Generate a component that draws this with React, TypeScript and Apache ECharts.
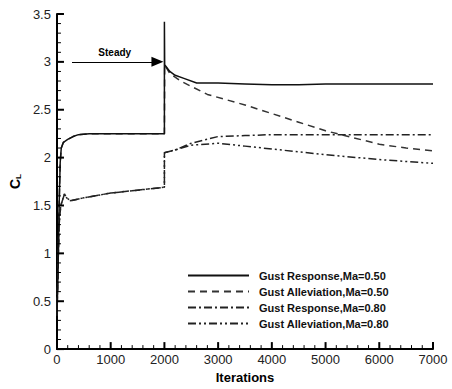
import React, { useEffect, useRef } from "react";
import * as echarts from "echarts";

const seriesNames = [
  "Gust Response,Ma=0.50",
  "Gust Alleviation,Ma=0.50",
  "Gust Response,Ma=0.80",
  "Gust Alleviation,Ma=0.80",
];

const steadyMa050: number[][] = [
  [0, 0.35], [20, 0.8], [40, 1.5], [60, 1.95], [80, 2.1], [120, 2.16], [200, 2.19],
  [300, 2.22], [400, 2.24], [600, 2.25], [1000, 2.25], [1500, 2.25], [2000, 2.25],
];
const steadyMa080: number[][] = [
  [0, 0.4], [20, 0.9], [40, 1.3], [70, 1.5], [100, 1.55], [140, 1.62], [180, 1.58],
  [250, 1.55], [500, 1.58], [1000, 1.63], [1500, 1.66], [2000, 1.69],
];

const responseMa050: number[][] = [
  [2000, 3.42], [2005, 2.97], [2100, 2.9], [2200, 2.86], [2350, 2.83], [2600, 2.78],
  [3000, 2.78], [3500, 2.77], [4000, 2.76], [4500, 2.76], [5000, 2.77], [6000, 2.77], [7000, 2.77],
];
const alleviationMa050: number[][] = [
  [2005, 2.97], [2100, 2.88], [2300, 2.8], [2800, 2.66], [3500, 2.55], [4000, 2.46],
  [4500, 2.37], [5000, 2.28], [5500, 2.21], [6000, 2.14], [6500, 2.1], [7000, 2.07],
];
const responseMa080: number[][] = [
  [2000, 2.05], [2200, 2.08], [2500, 2.15], [3000, 2.22], [3500, 2.23], [4000, 2.24],
  [5000, 2.24], [6000, 2.24], [7000, 2.24],
];
const alleviationMa080: number[][] = [
  [2000, 2.05], [2200, 2.08], [2500, 2.13], [3000, 2.15], [3500, 2.12], [4000, 2.09],
  [5000, 2.03], [6000, 1.98], [7000, 1.94],
];

const xMajorTicks = [0, 1000, 2000, 3000, 4000, 5000, 6000, 7000];
const yMajorTicks = [0, 0.5, 1, 1.5, 2, 2.5, 3, 3.5];

const arrowStart = [280, 3.0];
const arrowEnd = [1870, 3.0];

export default function App() {
  const ref = useRef<HTMLDivElement>(null);
  useEffect(() => {
    if (!ref.current) return;
    const chart = echarts.init(ref.current, null, { renderer: "svg" });
    const font = "Liberation Sans, Arial, sans-serif";

    // tick marks: [value, kind] kind 0 = x major, 1 = x minor, 2 = y major, 3 = y minor
    const tickData: number[][] = [];
    xMajorTicks.forEach((v, i) => {
      tickData.push([v, 0]);
      if (i < xMajorTicks.length - 1) {
        const step = (xMajorTicks[i + 1] - v) / 5;
        for (let k = 1; k < 5; k++) tickData.push([v + step * k, 1]);
      }
    });
    yMajorTicks.forEach((v, i) => {
      tickData.push([v, 2]);
      if (i < yMajorTicks.length - 1) {
        const step = (yMajorTicks[i + 1] - v) / 5;
        for (let k = 1; k < 5; k++) tickData.push([v + step * k, 3]);
      }
    });

    const makeAxis = (margin: number) => ({
      axisLine: { show: true, lineStyle: { color: "#000", width: 2 } },
      axisTick: { show: false },
      minorTick: { show: false },
      splitLine: { show: false },
      axisLabel: { color: "#222", fontSize: 13, fontFamily: font, margin, formatter: (v: number) => String(v) },
    });

    chart.setOption({
      animation: false,
      backgroundColor: "#fff",
      grid: { left: 56, right: 19, top: 14, bottom: 32 },
      legend: {
        orient: "vertical",
        left: 182,
        top: 265,
        itemWidth: 61,
        itemHeight: 11,
        itemGap: 5,
        data: seriesNames,
        itemStyle: { opacity: 0, borderWidth: 0 },
        textStyle: { fontFamily: font, fontWeight: "bold", fontSize: 11, color: "#111", padding: [0, 0, 0, 5] },
      },
      xAxis: {
        type: "value",
        min: 0,
        max: 7000,
        interval: 1000,
        name: "Iterations",
        nameLocation: "middle",
        nameGap: 18,
        nameTextStyle: { fontFamily: font, fontWeight: "bold", fontSize: 13, color: "#000" },
        ...makeAxis(4),
      },
      yAxis: {
        type: "value",
        min: 0,
        max: 3.5,
        interval: 0.5,
        name: "{c|C}{l|L}",
        nameLocation: "middle",
        nameRotate: 90,
        nameGap: 28,
        nameTextStyle: {
          rich: {
            c: { fontFamily: font, fontWeight: "bold", fontSize: 14, color: "#000" },
            l: { fontFamily: font, fontWeight: "bold", fontSize: 8, color: "#000", verticalAlign: "bottom", padding: [6, 0, 0, 0] },
          },
        },
        ...makeAxis(6),
      },
      series: [
        {
          type: "custom",
          silent: true,
          clip: false,
          z: 10,
          data: tickData,
          renderItem: (_params: any, api: any) => {
            const v = api.value(0);
            const kind = api.value(1);
            const major = kind === 0 || kind === 2;
            const len = major ? 7 : 4;
            if (kind < 2) {
              const p = api.coord([v, 0]);
              return {
                type: "line",
                shape: { x1: p[0], y1: p[1], x2: p[0], y2: p[1] - len },
                style: { stroke: "#000", lineWidth: major ? 2 : 1 },
              };
            }
            const p = api.coord([0, v]);
            return {
              type: "line",
              shape: { x1: p[0], y1: p[1], x2: p[0] + len, y2: p[1] },
              style: { stroke: "#000", lineWidth: major ? 2 : 1 },
            };
          },
        },
        {
          name: seriesNames[0],
          type: "line",
          symbol: "none",
          data: [...steadyMa050, ...responseMa050],
          lineStyle: { color: "#111", width: 1.5, type: "solid" },
          itemStyle: { color: "#111" },
          z: 5,
          markLine: {
            silent: true,
            symbol: ["none", "triangle"],
            symbolSize: [10, 12],
            lineStyle: { color: "#000", width: 1, type: "solid" },
            label: {
              show: true,
              position: "middle",
              formatter: "Steady",
              fontFamily: font,
              fontWeight: "bold",
              fontSize: 10,
              color: "#000",
              distance: 4,
            },
            data: [[{ coord: arrowStart }, { coord: arrowEnd }]],
          },
        },
        {
          name: seriesNames[1],
          type: "line",
          symbol: "none",
          data: [...steadyMa050, ...alleviationMa050],
          lineStyle: { color: "#333", width: 1.5, type: [7, 5] },
          itemStyle: { color: "#333" },
          z: 4,
        },
        {
          name: seriesNames[2],
          type: "line",
          symbol: "none",
          data: [...steadyMa080, ...responseMa080],
          lineStyle: { color: "#222", width: 1.5, type: [8, 3, 2, 3] },
          itemStyle: { color: "#222" },
          z: 3,
        },
        {
          name: seriesNames[3],
          type: "line",
          symbol: "none",
          data: [...steadyMa080, ...alleviationMa080],
          lineStyle: { color: "#222", width: 1.5, type: [8, 3, 2, 3, 2, 3] },
          itemStyle: { color: "#222" },
          z: 2,
        },
      ],
    });
    return () => chart.dispose();
  }, []);
  return <div ref={ref} style={{ width: 452, height: 389, position: "absolute", left: 0, top: 0 }} />;
}
